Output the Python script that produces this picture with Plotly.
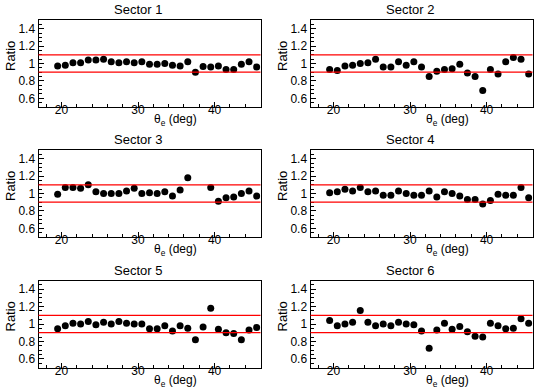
import plotly.graph_objects as go

W, H = 545, 391

theta = [19.5 + i for i in range(27)]

sector1 = [0.97, 0.98, 1.01, 1.01, 1.04, 1.04, 1.05, 1.02, 1.01, 1.02, 1.01, 1.02, 0.99, 0.99,
           1.00, 0.98, 0.97, 1.02, 0.90, 0.965, 0.96, 0.97, 0.93, 0.93, 0.99, 1.02, 0.96]
sector2 = [0.93, 0.92, 0.97, 0.98, 1.00, 1.01, 1.05, 0.96, 0.96, 1.02, 0.98, 1.02, 0.96, 0.85,
           0.91, 0.93, 0.94, 0.99, 0.89, 0.85, 0.69, 0.93, 0.88, 1.02, 1.07, 1.05, 0.88]
sector3 = [0.99, 1.07, 1.07, 1.06, 1.10, 1.02, 1.00, 1.00, 1.00, 1.03, 1.06, 1.00, 1.01, 1.00,
           1.02, 0.97, 1.04, 1.18, None, None, 1.07, 0.91, 0.95, 0.96, 1.00, 1.03, 0.97]
sector4 = [1.01, 1.02, 1.05, 1.03, 1.07, 1.02, 1.03, 0.98, 0.98, 1.03, 1.00, 0.98, 0.98, 1.03,
           0.96, 1.02, 1.00, 0.97, 0.93, 0.93, 0.88, 0.92, 0.99, 0.98, 0.98, 1.07, 0.95]
sector5 = [0.945, 0.98, 1.01, 1.00, 1.03, 0.99, 1.02, 1.00, 1.03, 1.01, 1.00, 1.00, 0.945, 0.945,
           0.98, 0.92, 0.98, 0.95, 0.82, 0.965, 1.18, 0.94, 0.90, 0.89, 0.82, 0.93, 0.96]
sector6 = [1.04, 0.98, 1.00, 1.02, 1.155, 1.02, 0.98, 1.00, 0.98, 1.02, 1.00, 0.99, 0.92, 0.72,
           0.93, 1.01, 0.94, 0.97, 0.91, 0.86, 0.85, 1.01, 0.98, 0.945, 0.95, 1.06, 1.01]

sectors = [sector1, sector2, sector3, sector4, sector5, sector6]
titles = ["Sector 1", "Sector 2", "Sector 3", "Sector 4", "Sector 5", "Sector 6"]
ref_lines = [0.9, 1.1]

x_range = [17, 46]
y_range = [0.5, 1.5]
y_ticks = [0.6, 0.8, 1.0, 1.2, 1.4]
y_ticklabels = ["0.6", "0.8", "1", "1.2", "1.4"]
x_ticks = [20, 30, 40]

FONT = "Liberation Sans, Arial, Helvetica, sans-serif"

col_left = [38.5, 310.5]
plot_w = 222
row_top = [20, 150, 280.5]
plot_h = 87

fig = go.Figure()
annotations = []
shapes = []

for i, (vals, title) in enumerate(zip(sectors, titles)):
    r, c = divmod(i, 2)
    n = i + 1
    xa = "xaxis" if n == 1 else f"xaxis{n}"
    ya = "yaxis" if n == 1 else f"yaxis{n}"
    xr = "x" if n == 1 else f"x{n}"
    yr = "y" if n == 1 else f"y{n}"

    x0 = col_left[c] / W
    x1 = (col_left[c] + plot_w) / W
    y1 = 1 - row_top[r] / H
    y0 = 1 - (row_top[r] + plot_h) / H

    fig.add_trace(go.Scatter(
        x=theta, y=vals, mode="markers", xaxis=xr, yaxis=yr,
        marker=dict(color="black", size=7, line=dict(width=0)),
        showlegend=False, hoverinfo="x+y"))

    axis_common = dict(
        showline=True, linecolor="black", linewidth=1, mirror=True,
        ticks="inside", tickcolor="black", ticklen=5, tickwidth=1,
        showgrid=False, zeroline=False,
        tickfont=dict(family=FONT, size=12, color="black"),
    )
    fig.layout[xa] = dict(
        domain=[x0, x1], range=x_range, anchor=yr,
        tickvals=x_ticks, ticktext=[str(t) for t in x_ticks],
        ticklabelstandoff=-8,
        minor=dict(ticks="inside", ticklen=3, tickcolor="black", dtick=2, tick0=0),
        **axis_common)
    fig.layout[ya] = dict(
        domain=[y0, y1], range=y_range, anchor=xr,
        tickvals=y_ticks, ticktext=y_ticklabels,
        minor=dict(ticks="inside", ticklen=3, tickcolor="black", dtick=0.05, tick0=0),
        **axis_common)

    for lv in ref_lines:
        shapes.append(dict(type="line", xref=f"{xr} domain", yref=yr,
                           x0=0, x1=1, y0=lv, y1=lv,
                           line=dict(color="red", width=1.3)))

    # title
    annotations.append(dict(
        text=title, x=(col_left[c] + 99) / W, y=1 - (row_top[r] - 10) / H,
        xref="paper", yref="paper", showarrow=False,
        xanchor="center", yanchor="middle",
        font=dict(family=FONT, size=13, color="black")))
    # x title
    annotations.append(dict(
        text="θ<sub>e</sub> (deg)", x=(col_left[c] + 137) / W,
        y=1 - (row_top[r] + plot_h + 13) / H,
        xref="paper", yref="paper", showarrow=False,
        xanchor="center", yanchor="middle",
        font=dict(family=FONT, size=12, color="black")))
    # y title
    annotations.append(dict(
        text="Ratio", x=(col_left[c] - 28.5) / W,
        y=1 - (row_top[r] + 36) / H,
        xref="paper", yref="paper", showarrow=False, textangle=-90,
        xanchor="center", yanchor="middle",
        font=dict(family=FONT, size=13, color="black")))

fig.update_layout(
    width=W, height=H,
    margin=dict(l=0, r=0, t=0, b=0),
    paper_bgcolor="white", plot_bgcolor="white",
    annotations=annotations, shapes=shapes,
    font=dict(family=FONT, color="black"),
)

fig.write_html("out.html", config={"displayModeBar": False},
               post_script="document.body.style.margin='0';document.body.style.padding='0';")
